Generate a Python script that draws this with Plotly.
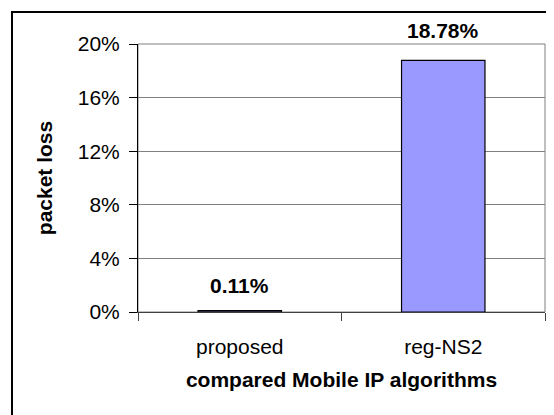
import plotly.graph_objects as go

categories = ["proposed", "reg-NS2"]
packet_loss = [0.11, 18.78]
label_texts = ["0.11%", "18.78%"]
y_ticks = [0, 4, 8, 12, 16, 20]

# page is offset by the 8px default body margin
OFF = 8
W, H = 554 - OFF, 415 - OFF
L, R, T, B = 138 - OFF, 9, 44 - OFF, 103
pw, ph = W - L - R, H - T - B

def px_to_paper_x(px):
    return (px - OFF - L) / pw

def px_to_paper_y(py):
    return (H - B - (py - OFF)) / ph

font_family = "Arial, Liberation Sans, sans-serif"
FS = 21

fig = go.Figure()
fig.add_trace(go.Bar(
    x=categories,
    y=packet_loss,
    width=0.41,
    marker=dict(color="#9999FF", line=dict(color="black", width=1.2)),
    hoverinfo="skip",
))

label_shift = [12, 16]
for cat, val, txt, sh in zip(categories, packet_loss, label_texts, label_shift):
    fig.add_annotation(
        x=cat, y=val, text="<b>%s</b>" % txt, showarrow=False,
        yanchor="bottom", yshift=sh,
        font=dict(family=font_family, size=FS, color="black"),
    )

fig.add_shape(type="rect", xref="paper", yref="paper", x0=0, x1=1, y0=0, y1=1,
              line=dict(color="#808080", width=1), layer="below")
fig.add_shape(type="rect", xref="paper", yref="paper",
              x0=px_to_paper_x(12), x1=px_to_paper_x(570),
              y0=px_to_paper_y(430), y1=px_to_paper_y(12),
              line=dict(color="black", width=2), layer="above")

fig.update_layout(
    width=W, height=H,
    margin=dict(l=L, r=R, t=T, b=B, pad=0),
    paper_bgcolor="white", plot_bgcolor="white",
    showlegend=False,
    font=dict(family=font_family, size=FS, color="black"),
)
fig.update_xaxes(
    type="category",
    tickson="boundaries",
    ticks="outside", ticklen=8, tickcolor="#404040", tickwidth=1,
    showline=True, linecolor="#404040", linewidth=1,
    showgrid=False,
    tickfont=dict(family=font_family, size=FS, color="black"),
    ticklabelstandoff=16,
    title=dict(text="<b>compared Mobile IP algorithms</b>", standoff=15,
               font=dict(family=font_family, size=FS, color="black")),
)
fig.update_yaxes(
    range=[0, 20],
    tickvals=y_ticks,
    ticktext=["%d%%" % v for v in y_ticks],
    ticks="outside", ticklen=8, tickcolor="black", tickwidth=1,
    showline=True, linecolor="black", linewidth=1,
    showgrid=True, gridcolor="#808080", gridwidth=1,
    zeroline=False,
    tickfont=dict(family=font_family, size=FS, color="black"),
    ticklabelstandoff=5,
    title=dict(text="<b>packet loss</b>", standoff=19,
               font=dict(family=font_family, size=FS, color="black")),
)

fig.write_html("out.html")
